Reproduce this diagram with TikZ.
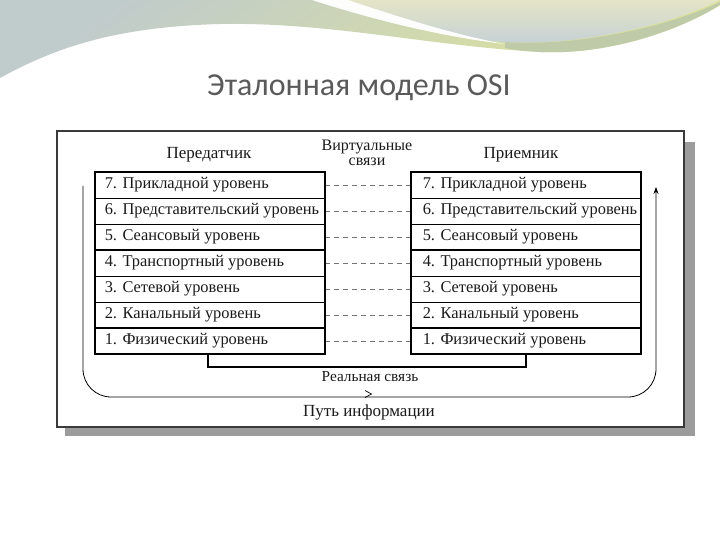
\documentclass[tikz,border=0pt]{standalone}
\usepackage{fontspec}
\setmainfont{Liberation Serif}
\newfontfamily\titlefont{Carlito}
\usetikzlibrary{arrows.meta}
\definecolor{ylw}{HTML}{DCE29A}
\definecolor{gryb}{HTML}{C0CBCC}
\definecolor{beige}{HTML}{E4E4C6}
\definecolor{bluel}{HTML}{C4D0D6}
\definecolor{bandg}{HTML}{BFCBA8}
\definecolor{titlec}{HTML}{5A5A5A}
\definecolor{shadowc}{HTML}{9C9C9C}
\definecolor{framec}{HTML}{3A3A3A}
\definecolor{txt}{HTML}{1A1A1A}
\tikzset{
  layer/.style={draw=black, line width=0.9pt, minimum width=230pt, minimum height=26pt, inner sep=0pt},
  ltext/.style={font=\fontsize{16.4}{18}\selectfont, text=txt, inner sep=0pt},
  hdr/.style={font=\fontsize{17}{19}\selectfont, text=txt, inner sep=0pt},
  virt/.style={draw=gray!90!black, line width=0.9pt, dash pattern=on 5pt off 4pt},
  boxthick/.style={draw=black, line width=2pt},
  reallink/.style={draw=black, line width=2.6pt},
  infopath/.style={draw=black, line width=0.8pt, rounded corners=28pt},
}
\begin{document}
\begin{tikzpicture}[x=1pt,y=-1pt]
\useasboundingbox (0,0) rectangle (720,540);
\fill[white] (0,0) rectangle (720,540);
% decorative wave
\shade[top color=gryb, bottom color=ylw, shading angle=35]
  (0,0) -- (0,78) .. controls (60,45) and (120,27) .. (220,24)
  .. controls (330,22) and (430,46) .. (540,52)
  .. controls (610,55) and (680,30) .. (720,5) -- (720,0) -- cycle;
\fill[bandg] (505,42) .. controls (580,47) and (670,26) .. (720,2) -- (720,5)
  .. controls (680,30) and (610,55) .. (540,52) .. controls (525,51) and (515,50) .. (505,48) -- cycle;
\shade[top color=beige, bottom color=bluel]
  (320,0) .. controls (390,22) and (450,38) .. (505,42)
  .. controls (580,46) and (670,25) .. (720,0) -- cycle;
\fill[white, opacity=0.95] (312,0) .. controls (380,22) and (450,38) .. (505,44)
  .. controls (450,34) and (390,14) .. (348,0) -- cycle;
% title
\node[font=\titlefont\fontsize{32}{36}\selectfont, text=titlec, anchor=base, inner sep=0pt] (title) at (359,96) {Эталонная модель OSI};
% frame
\fill[shadowc] (65,142) rectangle (695,436);
\draw[framec, line width=1.6pt, fill=white] (57,131) rectangle (684,427);
% headers
\node[hdr] (htx) at (209,155) {Передатчик};
\node[hdr] (hrx) at (521,155) {Приемник};
\node[hdr, align=center, font=\fontsize{16}{15}\selectfont] (hv) at (367,153) {Виртуальные\\связи};
% layers
\foreach \n/\t in {7/Прикладной, 6/Представительский, 5/Сеансовый, 4/Транспортный, 3/Сетевой, 2/Канальный, 1/Физический} {
  \node[layer, label={[ltext,anchor=west,xshift=10pt]west:\n. \t\ уровень}] (L\n) at (210,{185+(7-\n)*26}) {};
  \node[layer, label={[ltext,anchor=west,xshift=12pt]west:\n. \t\ уровень}] (R\n) at (526,{185+(7-\n)*26}) {};
  \draw[virt] (L\n.east) -- (R\n.west);
}
\draw[boxthick] (L7.north west) rectangle (L1.south east);
\draw[boxthick] (R7.north west) rectangle (R1.south east);
\draw[boxthick] (L5.south west) -- (L5.south east);
\draw[boxthick] (L2.south west) -- (L2.south east);
\draw[boxthick] (R5.south west) -- (R5.south east);
\draw[boxthick] (R2.south west) -- (R2.south east);
% real link
\coordinate (rl) at (370,367);
\draw[reallink] ([xshift=-2pt]L1.south) |- (rl) -| (R1.south);
\node[hdr, font=\fontsize{15.3}{17}\selectfont] (rlt) at (370,377) {Реальная связь};
% information path
\coordinate (ps) at (83,186);
\coordinate (pb) at (370,397);
\coordinate (pe) at (656,187);
\draw[infopath, -{Stealth[length=7pt,width=5pt]}] (ps) |- (pb) -| (pe);
\draw[line width=0.7pt] (365,390.5) -- (371.5,394) -- (365,397.5);
\node[hdr] (pt) at (369,412) {Путь информации};
\end{tikzpicture}
\end{document}
